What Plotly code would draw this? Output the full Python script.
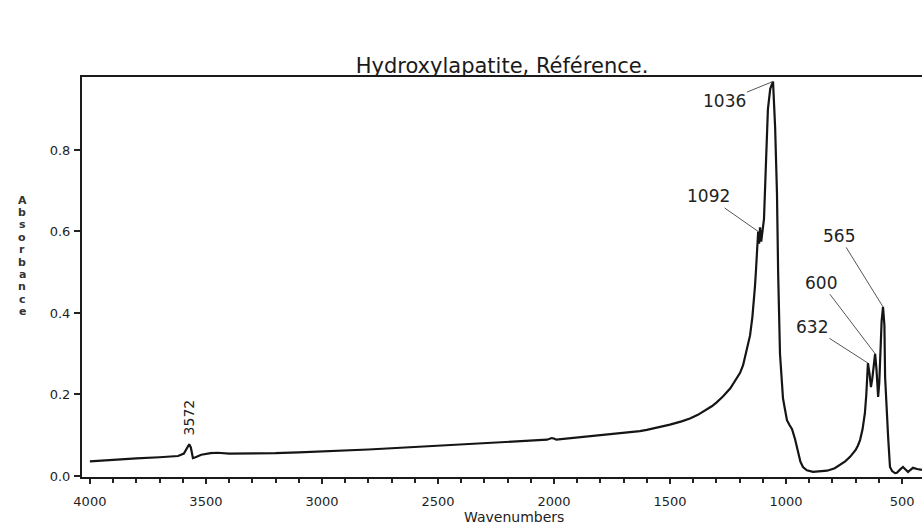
import plotly.graph_objects as go

# Spectrum (wavenumber, absorbance)
wavenumber = [4000, 3900, 3800, 3700, 3620, 3595, 3580, 3572, 3565, 3556, 3545, 3520,
              3480, 3450, 3400, 3300, 3200, 3100, 3000, 2900, 2800, 2700, 2600, 2500,
              2400, 2300, 2200, 2100, 2030, 2010, 2000, 1990, 1900, 1800, 1700, 1630,
              1600, 1550, 1500, 1450, 1414, 1380, 1350, 1320, 1300, 1272, 1240, 1220,
              1198, 1185, 1175, 1165, 1155, 1145, 1138, 1134,
              1130, 1124, 1120, 1116, 1112, 1107, 1102, 1097, 1095, 1086, 1078, 1068,
              1056, 1047, 1039, 1034, 1026, 1013, 996, 985, 974, 961, 948, 938, 927,
              910, 884, 850, 823, 790, 767, 745, 724, 700, 690, 681, 670, 660, 654,
              650, 647, 640, 634, 628, 622,
              616, 610, 603, 598, 592, 588, 582, 576, 573, 566, 560, 552, 543, 530,
              522, 510, 496, 485, 474, 466, 453, 435, 414]
absorbance = [0.036, 0.040, 0.043, 0.046, 0.049, 0.055, 0.072, 0.078, 0.070, 0.044, 0.046, 0.052,
              0.056, 0.057, 0.055, 0.055, 0.056, 0.058, 0.060, 0.062, 0.065, 0.068, 0.071, 0.074,
              0.077, 0.080, 0.083, 0.086, 0.089, 0.093, 0.092, 0.089, 0.094, 0.099, 0.105, 0.110,
              0.113, 0.119, 0.126, 0.134, 0.141, 0.150, 0.160, 0.171, 0.180, 0.195, 0.215, 0.232,
              0.253, 0.272, 0.295, 0.318, 0.345, 0.390, 0.430, 0.464,
              0.500, 0.560, 0.600, 0.570, 0.610, 0.575, 0.600, 0.620, 0.630, 0.775, 0.900, 0.950,
              0.968, 0.856, 0.694, 0.500, 0.300, 0.190, 0.137, 0.125, 0.115, 0.090, 0.055, 0.035, 0.022,
              0.014, 0.010, 0.011, 0.013, 0.019, 0.027, 0.036, 0.047, 0.064, 0.075, 0.088, 0.115, 0.155, 0.200,
              0.245, 0.277, 0.250, 0.218, 0.240, 0.270,
              0.300, 0.260, 0.194, 0.230, 0.320, 0.380, 0.415, 0.370, 0.243, 0.150, 0.096, 0.022, 0.012, 0.007,
              0.008, 0.015, 0.022, 0.016, 0.010, 0.014, 0.020, 0.017, 0.015]

# Peak labels
peak_labels = ["1036", "1092", "565", "600", "632"]
peak_x = [1056, 1120, 582, 616, 647]
peak_y = [0.968, 0.600, 0.415, 0.300, 0.277]
peak_ax = [-49, -50, -44, -54, -56]
peak_ay = [20, -35, -71, -71, -36]

oh_label = "3572"
oh_x = 3572
oh_y = 0.078

x_ticks = [4000, 3500, 3000, 2500, 2000, 1500, 1000, 500]
y_ticks = [0.0, 0.2, 0.4, 0.6, 0.8]
y_title = "Absorbance"

FONT = "DejaVu Sans"

fig = go.Figure()
fig.add_trace(go.Scatter(x=wavenumber, y=absorbance, mode="lines",
                         line=dict(color="#151515", width=2.2), hoverinfo="skip",
                         showlegend=False))

annotations = []
for lab, px, py, ax, ay in zip(peak_labels, peak_x, peak_y, peak_ax, peak_ay):
    annotations.append(dict(x=px, y=py, xref="x", yref="y", text=lab, showarrow=True,
                            ax=ax, ay=ay, arrowhead=0, arrowwidth=1, arrowcolor="#555",
                            font=dict(family=FONT, size=17, color="#222")))
annotations.append(dict(x=oh_x, y=oh_y, xref="x", yref="y", text=oh_label, showarrow=False,
                        textangle=-90, yshift=27, xshift=0,
                        font=dict(family=FONT, size=14, color="#222")))
# stacked vertical letters of the y-axis title
for i, ch in enumerate(y_title):
    ypx = 200 + i * 12.4
    annotations.append(dict(x=(22 - 82) / 840, y=(477 - ypx) / 400, xref="paper", yref="paper",
                            text=ch, showarrow=False, xanchor="center", yanchor="middle",
                            font=dict(family=FONT, size=11, color="#333", weight="bold")))
annotations.append(dict(x=(514 - 82) / 840, y=(477 - 517) / 400, xref="paper", yref="paper",
                        text="Wavenumbers", showarrow=False, xanchor="center", yanchor="middle",
                        font=dict(family=FONT, size=14, color="#222")))

fig.update_layout(
    width=922, height=529,
    margin=dict(l=82, r=0, t=77, b=52),
    paper_bgcolor="white", plot_bgcolor="white",
    title=dict(text="Hydroxylapatite, Référence.", x=502 / 922, xanchor="center",
               y=1 - 66 / 529, yanchor="middle", yref="container",
               font=dict(family=FONT, size=21, color="#1a1a1a")),
    annotations=annotations,
)
fig.update_xaxes(range=[4034, 414], tickvals=x_ticks, ticks="outside", ticklen=5,
                 tickwidth=1.5, tickcolor="#222", showline=True, linecolor="#1a1a1a",
                 linewidth=2, mirror=True, showgrid=False, zeroline=False,
                 ticklabelstandoff=6,
                 tickfont=dict(family=FONT, size=13, color="#1e1e1e"),
                 minor=dict(dtick=100, tick0=0, ticks="outside", ticklen=4,
                            tickcolor="#222", showgrid=False))
fig.update_yaxes(range=[-0.0025, 0.979], tickvals=y_ticks, tickformat=".1f",
                 ticks="outside", ticklen=6, tickwidth=1.5, tickcolor="#222",
                 showline=True, linecolor="#1a1a1a", linewidth=2, showgrid=False,
                 zeroline=False, ticklabelstandoff=1,
                 tickfont=dict(family=FONT, size=13, color="#1e1e1e"))

fig.write_html("out.html")
